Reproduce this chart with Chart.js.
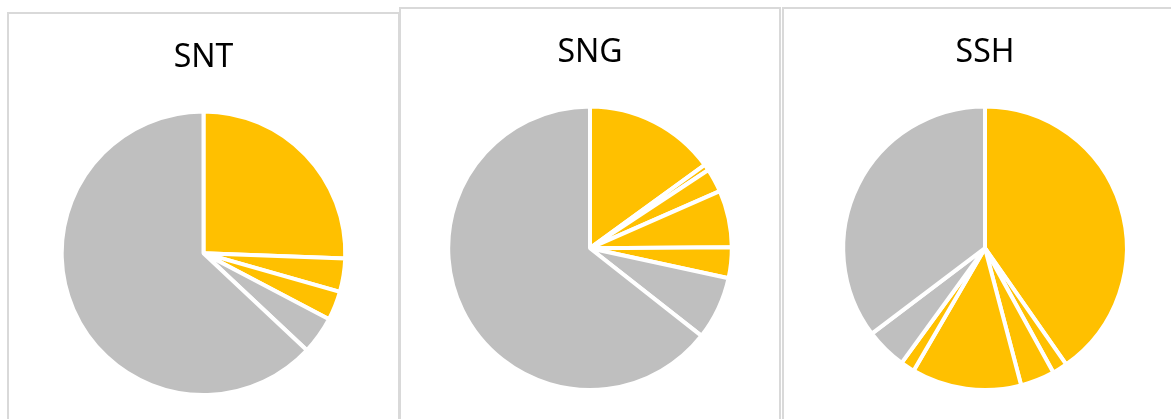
<!DOCTYPE html>
<html>
<head>
<meta charset="utf-8">
<script src="https://cdn.jsdelivr.net/npm/chart.js@4/dist/chart.umd.min.js"></script>
<style>
  html, body { margin: 0; padding: 0; background: #fff; overflow: hidden; }
  body { width: 1171px; height: 419px; position: relative; }
  .panel { position: absolute; box-sizing: border-box; border: 2px solid #d9d9d9; background: #fff; }
  .panel canvas { position: absolute; left: 0; top: 0; }
</style>
</head>
<body>
<div class="panel" id="p1" style="left:7px; top:12px; width:393px; height:430px;"><canvas id="snt" width="389" height="383"></canvas></div>
<div class="panel" id="p2" style="left:399px; top:7px; width:382px; height:430px;"><canvas id="sng" width="378" height="383"></canvas></div>
<div class="panel" id="p3" style="left:782px; top:7px; width:406px; height:430px;"><canvas id="ssh" width="402" height="383"></canvas></div>
<script>
// share of each slice (%), clockwise from 12 o'clock
const sntLabels = ['A', 'B', 'C', 'D', 'E'];
const sntValues = [25.6, 3.8, 3.3, 4.3, 63.0];
const sntGroups = ['yes', 'yes', 'yes', 'no', 'no'];

const sngLabels = ['A', 'B', 'C', 'D', 'E', 'F', 'G'];
const sngValues = [15.0, 0.7, 2.7, 6.5, 3.5, 7.2, 64.4];
const sngGroups = ['yes', 'yes', 'yes', 'yes', 'yes', 'no', 'no'];

const sshLabels = ['A', 'B', 'C', 'D', 'E', 'F', 'G'];
const sshValues = [40.3, 1.7, 3.9, 12.5, 1.6, 4.7, 35.3];
const sshGroups = ['yes', 'yes', 'yes', 'yes', 'yes', 'no', 'no'];

const groupColors = { yes: '#ffc000', no: '#bfbfbf' };

function createPie(elementId, titleText, labels, values, groups) {
    return new Chart(
        document.getElementById(elementId),
        {
            type: 'pie',
            data: {
                labels: labels,
                datasets: [
                    {
                        data: values,
                        backgroundColor: groups.map(g => groupColors[g]),
                        borderColor: '#ffffff',
                        borderWidth: 4
                    }
                ]
            },
            options: {
                responsive: false,
                animation: false,
                layout: { padding: 0 },
                plugins: {
                    legend: { display: false },
                    tooltip: { enabled: false },
                    title: {
                        display: true,
                        text: titleText,
                        color: '#000000',
                        font: { family: '"Noto Sans", sans-serif', size: 32, weight: 'normal' },
                        padding: { top: 25, bottom: 32 }
                    }
                }
            }
        }
    );
}

createPie('snt', 'SNT', sntLabels, sntValues, sntGroups);
createPie('sng', 'SNG', sngLabels, sngValues, sngGroups);
createPie('ssh', 'SSH', sshLabels, sshValues, sshGroups);
</script>
</body>
</html>
